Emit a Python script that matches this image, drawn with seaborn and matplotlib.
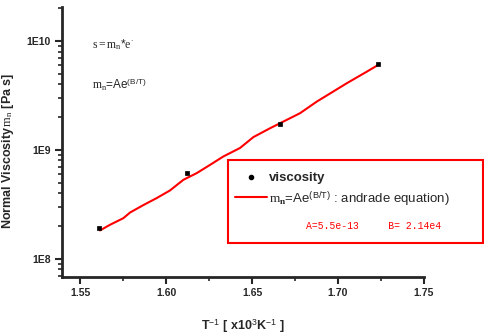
import matplotlib
matplotlib.use("Agg")
import matplotlib.pyplot as plt
from matplotlib.lines import Line2D
from matplotlib.patches import Rectangle
from matplotlib.ticker import MultipleLocator, LogLocator, FixedLocator, NullFormatter
import seaborn as sns
import pandas as pd

# ---- data ----
inv_T = [1.561, 1.612, 1.666, 1.723]
viscosity = [1.92e8, 6.15e8, 1.73e9, 6.15e9]

fit_inv_T = [1.5616, 1.5674, 1.5752, 1.5791, 1.5868, 1.5946, 1.6023, 1.6101,
             1.6178, 1.6256, 1.6333, 1.6430, 1.6508, 1.6605, 1.6779, 1.6876,
             1.7051, 1.7167, 1.7234]
fit_visc = [1.82e8, 2.05e8, 2.36e8, 2.66e8, 3.11e8, 3.61e8, 4.24e8, 5.31e8,
            6.11e8, 7.28e8, 8.69e8, 1.04e9, 1.31e9, 1.58e9, 2.17e9, 2.77e9,
            4.09e9, 5.22e9, 6.03e9]

x_ticks = [1.55, 1.60, 1.65, 1.70, 1.75]
x_tick_labels = ["1.55", "1.60", "1.65", "1.70", "1.75"]
y_ticks = [1e8, 1e9, 1e10]
y_tick_labels = ["1E8", "1E9", "1E10"]

sns.set_style("ticks")
plt.rcParams["font.family"] = ["Liberation Sans", "DejaVu Sans"]
plt.rcParams["mathtext.fontset"] = "custom"
plt.rcParams["mathtext.rm"] = "Liberation Serif"
plt.rcParams["mathtext.it"] = "Liberation Serif:italic"
plt.rcParams["mathtext.bf"] = "Liberation Serif:bold"
plt.rcParams["mathtext.sf"] = "Liberation Sans"

fig = plt.figure(figsize=(4.85, 3.35), dpi=100)
ax = fig.add_axes([62/485, 1-277/335, (424-62)/485, (277-7)/335])

pts = pd.DataFrame({"x": inv_T, "y": viscosity})
fit = pd.DataFrame({"x": fit_inv_T, "y": fit_visc})

sns.lineplot(data=fit, x="x", y="y", ax=ax, color="#ff0000", linewidth=1.5,
             sort=False, estimator=None)
sns.scatterplot(data=pts, x="x", y="y", ax=ax, color="black", marker="s",
                s=10, edgecolor="black", linewidth=0.5, zorder=3)

ax.set_yscale("log")
ax.set_xlim(1.5395, 1.75)
ax.set_ylim(6.8e7, 2.05e10)

ax.xaxis.set_major_locator(FixedLocator(x_ticks))
ax.set_xticklabels(x_tick_labels)
ax.xaxis.set_minor_locator(MultipleLocator(0.025))
ax.yaxis.set_major_locator(FixedLocator(y_ticks))
ax.set_yticklabels(y_tick_labels)
ax.yaxis.set_minor_locator(LogLocator(base=10, subs=range(2, 10)))
ax.yaxis.set_minor_formatter(NullFormatter())

for lab in ax.get_xticklabels() + ax.get_yticklabels():
    lab.set_fontweight("bold")
    lab.set_fontsize(7.5)

ax.tick_params(which="major", direction="out", length=5, width=1.5, pad=3)
ax.tick_params(which="minor", direction="out", length=3, width=1.2)
for side in ["left", "bottom"]:
    ax.spines[side].set_linewidth(2)
sns.despine(ax=ax)

ax.set_xlabel(r"T$^{\mathsf{-1}}$ [ x10$^{\mathsf{3}}$K$^{\mathsf{-1}}$ ]",
              fontsize=9, fontweight="bold", labelpad=14)
ax.set_ylabel(r"Normal Viscosity$\,\mathrm{m}_{\mathrm{n}}$ [Pa s]",
              fontsize=9, fontweight="bold")
ax.yaxis.set_label_coords(-0.127, 0.467)

fig.text(92/485, 1-45/335, r"$\mathrm{s=m}_{\mathrm{n}}\mathsf{*}\mathrm{e}^{\cdot}$",
         fontsize=8.5, va="center", ha="left")
fig.text(92/485, 1-85/335, r"$\mathrm{m}_{\mathrm{n}}$=Ae$^{\mathsf{(B/T)}}$",
         fontsize=8.5, va="center", ha="left")

# legend box
rect = Rectangle((228/485, 1-243/335), (483-228)/485, (243-160)/335,
                 transform=fig.transFigure, fill=False, edgecolor="#ff0000",
                 linewidth=1.5)
fig.patches.append(rect)

handles = [
    Line2D([], [], linestyle="none", marker="o", color="black", markersize=3),
    Line2D([], [], color="#ff0000", linewidth=1.5),
]
labels = ["viscosity",
          r"$\mathrm{m}_{\mathbf{n}}$=Ae$^{\mathsf{(B/T)}}$ : andrade equation)"]
leg = fig.legend(handles, labels, loc="upper left",
                 bbox_to_anchor=(235/485, 1-172/335), frameon=False,
                 fontsize=9.5, handlelength=2.4, handletextpad=0.2,
                 labelspacing=0.35, borderaxespad=0, borderpad=0)
leg.get_texts()[0].set_fontweight("bold")

fig.text(306/485, 1-226/335, "A=5.5e-13     B= 2.14e4", color="#ff0000",
         fontsize=7, family="Liberation Mono", va="center", ha="left")

fig.savefig("out.png", dpi=100)
